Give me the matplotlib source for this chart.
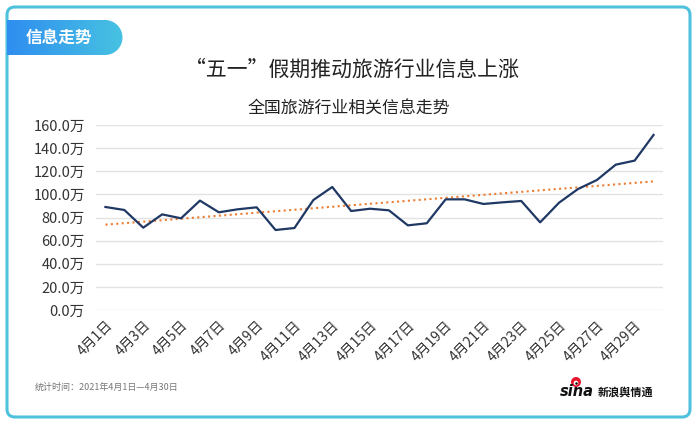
import numpy as np
import matplotlib
matplotlib.use("Agg")
import matplotlib.pyplot as plt
from matplotlib.patches import FancyBboxPatch, Polygon, Circle
from matplotlib.colors import LinearSegmentedColormap

plt.rcParams['font.family'] = ['Noto Sans CJK SC', 'DejaVu Sans']

days = [f"4月{d}日" for d in range(1, 31)]
values = [89.1, 86.5, 71.2, 82.7, 79.3, 94.6, 84.5, 87.1, 88.8, 69.2,
          70.9, 95.1, 106.4, 85.6, 87.6, 86.2, 73.2, 75.0, 95.7, 95.7,
          91.7, 93.1, 94.3, 75.8, 92.8, 104.6, 112.4, 125.7, 129.2, 151.4]
yticks = [0, 20, 40, 60, 80, 100, 120, 140, 160]
ytick_labels = [f"{v:.1f}万" for v in yticks]
title = "“五一”假期推动旅游行业信息上涨"
subtitle = "全国旅游行业相关信息走势"
tab_text = "信息走势"
footer = "统计时间：2021年4月1日—4月30日"

W, H = 698, 425
fig = plt.figure(figsize=(W / 100, H / 100), dpi=100)

# background / decoration axes in pixel coordinates
bg = fig.add_axes([0, 0, 1, 1], zorder=0)
bg.set_xlim(0, W)
bg.set_ylim(H, 0)
bg.axis('off')

border = FancyBboxPatch((7, 7), 683, 410, boxstyle="round,pad=0,rounding_size=8",
                        edgecolor='#4fc1dc', facecolor='white', lw=2.2)
bg.add_patch(border)

# tab with gradient
r = 17.5
cx, cy = 105, 37.5
th = np.linspace(-np.pi / 2, np.pi / 2, 60)
pts = [(7, cy - r)] + [(cx + r * np.cos(t), cy + r * np.sin(t)) for t in th] + [(7, cy + r)]
tab = Polygon(pts, closed=True, facecolor='none', edgecolor='none')
bg.add_patch(tab)
grad = np.linspace(0, 1, 256).reshape(1, -1)
cmap = LinearSegmentedColormap.from_list('tab', ['#2f8ef0', '#47c2e2'])
im = bg.imshow(grad, extent=(7, cx + r, cy + r, cy - r), cmap=cmap, aspect='auto', zorder=2)
im.set_clip_path(tab)
bg.text(59, 38, tab_text, color='white', fontsize=12, fontweight='bold',
        ha='center', va='center', zorder=3)

bg.text(352, 70, title, fontsize=15, ha='center', va='center', color='#222222')
bg.text(349, 109, subtitle, fontsize=12.2, ha='center', va='center', color='#222222')
bg.text(35, 387, footer, fontsize=6.5, ha='left', va='center', color='#777777')

# sina logo approximation
bg.add_patch(Circle((576, 382), 5, facecolor='#e6162d', edgecolor='none', zorder=3))
bg.add_patch(Circle((576, 383), 2.3, facecolor='white', edgecolor='none', zorder=4))
bg.add_patch(Circle((576.5, 383.5), 1.2, facecolor='black', edgecolor='none', zorder=5))
bg.text(560, 392, "sina", fontsize=10.5, fontweight='bold', fontstyle='italic',
        ha='left', va='center', color='#111111', family=['DejaVu Sans'])
bg.text(598, 392, "新浪舆情通", fontsize=8, fontweight='bold',
        ha='left', va='center', color='#111111')

# chart axes
left, right = 96 / W, 663 / W
bottom, top = 1 - 310 / H, 1 - 125 / H
ax = fig.add_axes([left, bottom, right - left, top - bottom], zorder=1)
ax.set_facecolor('none')
x = np.arange(len(values))
ax.plot(x, values, color='#1f3864', lw=1.6, zorder=3)
coef = np.polyfit(x, values, 1)
ax.plot(x, np.polyval(coef, x), color='#ed7d31', lw=1.5, ls=(0, (1, 1.6)), zorder=2)

ax.set_xlim(-0.5, len(values) - 0.5)
ax.set_ylim(0, 160)
ax.set_yticks(yticks)
ax.set_yticklabels(ytick_labels, fontsize=10.5, color='#333333')
ax.set_xticks(x[::2])
ax.set_xticklabels(days[::2], fontsize=10, color='#333333', rotation=45,
                   ha='right', rotation_mode='anchor')
ax.tick_params(axis='both', length=0)
ax.tick_params(axis='y', pad=8)
ax.tick_params(axis='x', pad=6)
ax.grid(axis='y', color='#e3e3e3', lw=1)
ax.set_axisbelow(True)
for s in ax.spines.values():
    s.set_visible(False)

fig.savefig('out.png', dpi=100)
